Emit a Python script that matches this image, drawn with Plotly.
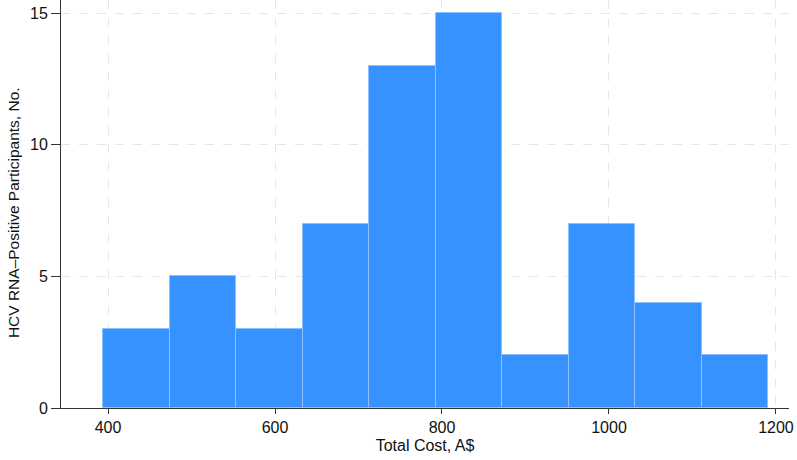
import plotly.graph_objects as go

bin_edges = [394.4, 474.0, 553.7, 633.3, 713.0, 792.6, 872.2, 951.9, 1031.5, 1111.2, 1190.8]
counts = [3, 5, 3, 7, 13, 15, 2, 7, 4, 2]
x_ticks = [400, 600, 800, 1000, 1200]
y_ticks = [0, 5, 10, 15]

centers = [(a + b) / 2 for a, b in zip(bin_edges[:-1], bin_edges[1:])]
widths = [b - a for a, b in zip(bin_edges[:-1], bin_edges[1:])]

fig = go.Figure(go.Bar(
    x=centers, y=counts, width=widths,
    marker=dict(color="#3592ff", line=dict(color="#8cc0ff", width=1)),
    hoverinfo="x+y",
))

font = "Liberation Sans, Arial, Helvetica, sans-serif"
fig.update_layout(
    width=797, height=460,
    margin=dict(l=61, r=8, t=0, b=52),
    plot_bgcolor="white", paper_bgcolor="white",
    font=dict(family=font, size=16, color="#111"),
    showlegend=False,
    bargap=0,
)
fig.update_xaxes(
    range=[343.7, 1215.6], tickvals=x_ticks,
    showline=True, linecolor="#333", linewidth=1,
    ticks="outside", ticklen=5, tickcolor="#333",
    showgrid=True, gridcolor="#e6e6e6", griddash="dash", gridwidth=1,
    zeroline=False,
    title=dict(text="Total Cost, A$", font=dict(size=16), standoff=4),
    tickfont=dict(size=16),
)
fig.update_yaxes(
    range=[0, 15.5], tickvals=y_ticks,
    showline=True, linecolor="#333", linewidth=1,
    ticks="outside", ticklen=9, tickcolor="#333",
    showgrid=True, gridcolor="#e6e6e6", griddash="dash", gridwidth=1,
    zeroline=False,
    tickfont=dict(size=16),
)
fig.add_annotation(
    text="HCV RNA–Positive Participants, No.",
    xref="paper", yref="paper", x=-0.066, y=0.48,
    textangle=-90, showarrow=False, font=dict(size=15.5),
    xanchor="center", yanchor="middle",
)
fig.write_html("out.html")
